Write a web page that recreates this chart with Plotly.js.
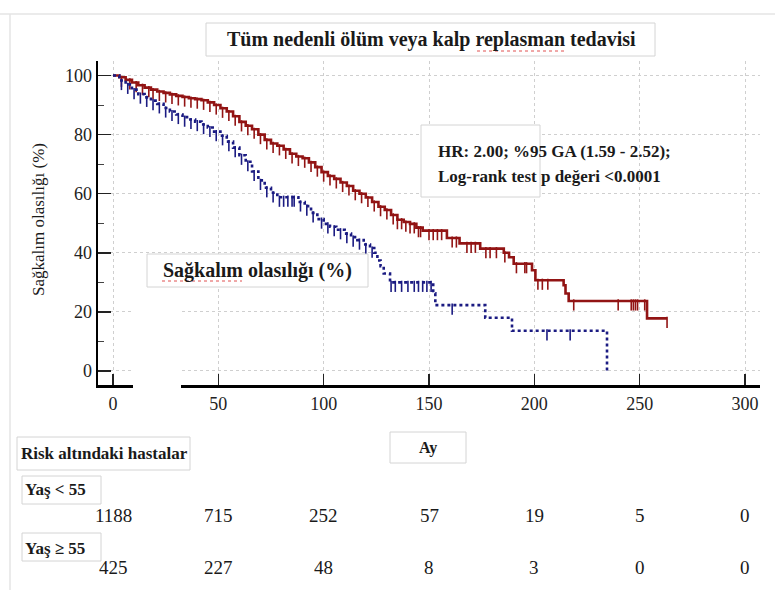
<!DOCTYPE html>
<html>
<head>
<meta charset="utf-8">
<script src="https://cdn.plot.ly/plotly-3.0.1.min.js"></script>
<style>html,body{margin:0;padding:0;background:#fff;}#chart{width:775px;height:592px;}</style>
</head>
<body>
<div id="chart"></div>
<script>
// ---- Data ----
// Yaş < 55 (red, solid): event times (months) and survival (%)
const youngT = [0,3,6,9,12,15,18,21,24,27,30,33,36,39,42,45,48,51,54,57,60,63,66,69,72,75,78,81,84,87,90,93,96,99,102,105,108,111,114,117,120,123,126,129,132,135,138,141,144,147,158.5,164.5,174.3,185.5,188,190.2,198.9,200.5,213.9,214.8,216.3,253.5];
const youngS = [100,99.4,98.5,97.6,96.7,95.9,95.2,94.6,94.1,93.6,93.1,92.7,92.3,92,91.6,90.9,90,88.9,87.8,86.2,84.3,83,81.8,80,78.2,77,76.2,75,73.5,72.6,72,70.6,69,67.3,66,65,63.8,62.6,61,60,58.7,57.2,55.6,54.5,52.8,51.2,50.4,49.8,48.5,47.5,45,43.2,41.4,40,38.5,36.3,34.1,30.7,29,26.2,23.7,17.8];
const youngEnd = 263;
const youngCens = [4,8,11,14,17,19,22,25,28,31,34,37,40,43,46,49,52,55,58,61,64,67,70,73,76,79,82,85,88,91,94,97,100,103,106,109,112,115,118,121,124,127,130,133,135,137,139,141,143,145,146,150,152,154,156,161,163,168,170,172,177,179,182,186,191.5,195.5,196.3,201.7,203.8,206.4,218.7,239.8,246,247,248,249,252.4,263];

// Yaş ≥ 55 (blue, dotted)
const oldT = [0,3,6,9,12,15,18,21,24,27,30,33,36,39,42,45,48,51,54,57,60,63,66,69,72,75,78,88,91,94,97,100,103,106,110,113,116,119,122,124,125.5,127,128.5,131.5,152,153,176.7,189.4,234.5];
const oldS = [100,98.3,97,95.2,93.7,92.6,91.5,90.4,89,87.8,86.8,85.9,85.1,84.4,83.4,82.4,81,79.6,77.6,75.6,73,70.8,67.5,64.5,62,60.3,58.8,57.2,55.8,53.5,51.4,49.8,48.8,47.8,46.5,45.3,44.3,42.8,41.6,40,37.4,35.5,33,30,26.3,22.3,18,13.6,0];
const oldEnd = 234.5;
const oldCens = [4,7,10,13,16,19,22,25,28,31,34,37,40,43,46,49,52,55,58,61,64,67,70,73,76,79,81,83,85,86,89,92,95,99,102,105,108,111,114,117,120,123,132,134,137,140,143,145,147,149,151,161,206,217];

// Risk table
const riskTimes = [0,50,100,150,200,250,300];
const riskYoung = [1188,715,252,57,19,5,0];
const riskOld = [425,227,48,8,3,0,0];

// Text
const titleText = "Tüm nedenli ölüm veya kalp replasman tedavisi";
const yTitle = "Sağkalım olasılığı (%)";
const boxLabel = "Sağkalım olasılığı (%)";
const statsLines = ["HR: 2.00; %95 GA (1.59 - 2.52);", "Log-rank test p değeri <0.0001"];
const xTitle = "Ay";
const riskTitle = "Risk altındaki hastalar";
const groupNames = ["Yaş < 55", "Yaş ≥ 55"];
const xTicks = [0,50,100,150,200,250,300];
const yTicks = [0,20,40,60,80,100];

// ---- Helpers ----
const RED = "#921414", BLUE = "#1b1b82";
const SERIF = "Liberation Serif, Times New Roman, serif";
const L = 98, T = 61, W = 662, H = 324;
const px = x => (x - L) / W;
const py = y => (T + H - y) / H;

function stepXY(ts, ss, tEnd) {
  const x = ts.slice(), y = ss.slice();
  if (tEnd > ts[ts.length - 1]) { x.push(tEnd); y.push(ss[ss.length - 1]); }
  return {x, y};
}
function survAt(ts, ss, t) {
  let v = ss[0];
  for (let i = 0; i < ts.length; i++) { if (ts[i] <= t) v = ss[i]; else break; }
  return v;
}
const tickOffset = 1.35;

const ys = stepXY(youngT, youngS, youngEnd);
const os = stepXY(oldT, oldS, oldEnd);

const traces = [
  {x: ys.x, y: ys.y, type: "scatter", mode: "lines", line: {shape: "hv", color: RED, width: 2.6}, hoverinfo: "skip"},
  {x: youngCens, y: youngCens.map(t => survAt(youngT, youngS, t) - tickOffset), type: "scatter", mode: "markers",
   marker: {symbol: "line-ns", size: 8, line: {color: RED, width: 1.6}}, hoverinfo: "skip"},
  {x: os.x, y: os.y, type: "scatter", mode: "lines", line: {shape: "hv", color: BLUE, width: 2.6, dash: "dot"}, hoverinfo: "skip"},
  {x: oldCens, y: oldCens.map(t => survAt(oldT, oldS, t) - tickOffset), type: "scatter", mode: "markers",
   marker: {symbol: "line-ns", size: 8, line: {color: BLUE, width: 1.6}}, hoverinfo: "skip"}
];

const boxLine = {color: "#d4d4d4", width: 1};
const shapes = [
  // frame lines of the screenshot
  {type: "line", xref: "paper", yref: "paper", x0: px(0), x1: px(775), y0: py(14), y1: py(14), line: {color: "#e4e4e4", width: 1.5}, layer: "above"},
  {type: "line", xref: "paper", yref: "paper", x0: px(10), x1: px(10), y0: py(14), y1: py(590), line: {color: "#e4e4e4", width: 1.5}, layer: "above"},
  // white gap on the axis
  {type: "rect", xref: "paper", yref: "paper", x0: px(133), x1: px(181), y0: py(258), y1: py(394), fillcolor: "#ffffff", line: {width: 0}, layer: "above"},
  // title box
  {type: "rect", xref: "paper", yref: "paper", x0: px(206), x1: px(655), y0: py(23), y1: py(56), fillcolor: "#ffffff", line: boxLine, layer: "above"},
  // stats box
  {type: "rect", xref: "paper", yref: "paper", x0: px(421), x1: px(540), y0: py(125), y1: py(197), fillcolor: "#ffffff", line: boxLine, layer: "above"},
  // survival label box
  {type: "rect", xref: "paper", yref: "paper", x0: px(147), x1: px(368), y0: py(254), y1: py(287), fillcolor: "#ffffff", line: boxLine, layer: "above"},
  // Ay box
  {type: "rect", xref: "paper", yref: "paper", x0: px(390), x1: px(466), y0: py(432), y1: py(463), fillcolor: "#ffffff", line: boxLine, layer: "above"},
  // Risk box
  {type: "rect", xref: "paper", yref: "paper", x0: px(17), x1: px(190), y0: py(437), y1: py(470), fillcolor: "#ffffff", line: boxLine, layer: "above"},
  // group boxes
  {type: "rect", xref: "paper", yref: "paper", x0: px(22), x1: px(101), y0: py(476), y1: py(504), fillcolor: "#ffffff", line: boxLine, layer: "above"},
  {type: "rect", xref: "paper", yref: "paper", x0: px(22), x1: px(101), y0: py(533), y1: py(561), fillcolor: "#ffffff", line: boxLine, layer: "above"},
  // spell-check squiggles
  {type: "line", xref: "paper", yref: "paper", x0: px(477), x1: px(567), y0: py(51), y1: py(51), line: {color: "#e05050", width: 1, dash: "dot"}, layer: "above"},
  {type: "line", xref: "paper", yref: "paper", x0: px(162), x1: px(242), y0: py(281), y1: py(281), line: {color: "#e05050", width: 1, dash: "dot"}, layer: "above"}
];

const ann = [];
function addText(text, x, y, size, bold, opts) {
  ann.push(Object.assign({xref: "paper", yref: "paper", x: px(x), y: py(y), text: bold ? "<b>" + text + "</b>" : text,
    showarrow: false, font: {family: SERIF, size: size, color: "#1a1a1a"}, xanchor: "center", yanchor: "middle"}, opts || {}));
}
addText(titleText, 431, 40, 20, true);
addText(statsLines[0], 436, 151, 17, true, {xanchor: "left"});
addText(statsLines[1], 436, 176, 17, true, {xanchor: "left"});
addText(boxLabel, 257, 270, 20, true);
addText(yTitle, 38, 220, 17, false, {textangle: -90});
addText(xTitle, 428, 448, 16, true);
addText(riskTitle, 104, 453, 17, true);
addText(groupNames[0], 23, 490, 17, true, {xanchor: "left"});
addText(groupNames[1], 23, 548, 17, true, {xanchor: "left"});
riskTimes.forEach((t, i) => {
  ann.push({xref: "x", yref: "paper", x: t, y: py(515), text: String(riskYoung[i]), showarrow: false,
    font: {family: SERIF, size: 19, color: "#1a1a1a"}, xanchor: "center", yanchor: "middle"});
  ann.push({xref: "x", yref: "paper", x: t, y: py(567), text: String(riskOld[i]), showarrow: false,
    font: {family: SERIF, size: 19, color: "#1a1a1a"}, xanchor: "center", yanchor: "middle"});
});

const layout = {
  width: 775, height: 592,
  margin: {l: L, r: 775 - L - W, t: T, b: 592 - T - H, pad: 0},
  paper_bgcolor: "#ffffff", plot_bgcolor: "#ffffff",
  showlegend: false,
  xaxis: {range: [-7.12, 307.12], tickvals: xTicks, ticktext: xTicks.map(String), showgrid: true, gridcolor: "#cfcfcf", griddash: "dot", gridwidth: 1,
    zeroline: false, showline: true, linecolor: "#000", linewidth: 3, ticks: "inside", ticklen: 11, tickwidth: 1.5, tickcolor: "#222",
    tickfont: {family: SERIF, size: 18, color: "#222"}, fixedrange: true},
  yaxis: {range: [-4.74, 104.9], tickvals: yTicks, ticktext: yTicks.map(String), showgrid: true, gridcolor: "#cfcfcf", griddash: "dot", gridwidth: 1,
    zeroline: false, showline: true, linecolor: "#000", linewidth: 2.5, ticks: "inside", ticklen: 13, tickwidth: 1.5, tickcolor: "#222",
    minor: {dtick: 10, tick0: 0, ticks: "inside", ticklen: 6, tickcolor: "#444", tickwidth: 1, showgrid: false},
    tickfont: {family: SERIF, size: 18, color: "#222"}, fixedrange: true},
  shapes: shapes,
  annotations: ann
};

Plotly.newPlot("chart", traces, layout, {staticPlot: true, displayModeBar: false});
</script>
</body>
</html>
